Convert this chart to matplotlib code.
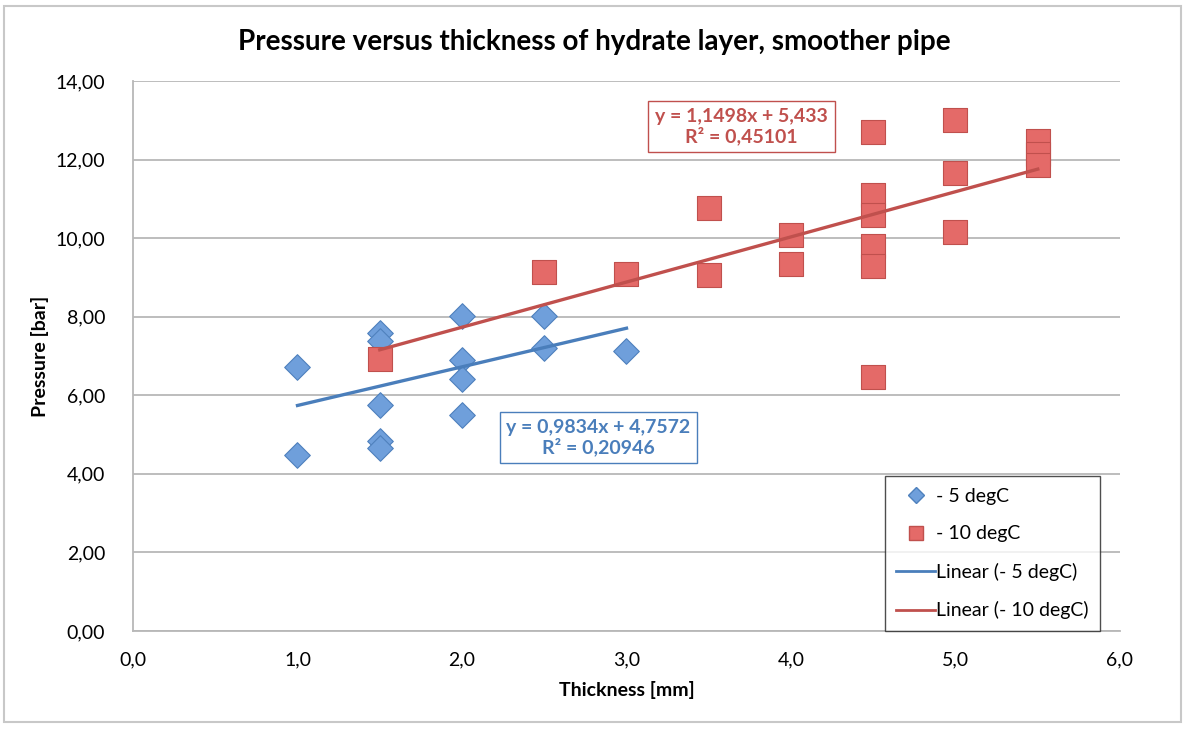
import numpy as np
import matplotlib.pyplot as plt
from matplotlib.lines import Line2D
from matplotlib.patches import Rectangle
from matplotlib.ticker import FuncFormatter

plt.rcParams['font.family'] = ['Lato', 'DejaVu Sans']

# -5 degC series (thickness mm, pressure bar)
x_5 = [1.0, 1.0, 1.5, 1.5, 1.5, 1.5, 1.5, 2.0, 2.0, 2.0, 2.0, 2.5, 2.5, 3.0]
p_5 = [6.72, 4.48, 7.59, 7.38, 5.75, 4.84, 4.67, 8.02, 6.89, 6.41, 5.50, 8.02, 7.21, 7.13]

# -10 degC series
x_10 = [1.5, 2.5, 3.0, 3.5, 3.5, 4.0, 4.0, 4.5, 4.5, 4.5, 4.5, 4.5, 4.5,
        5.0, 5.0, 5.0, 5.5, 5.5, 5.5]
p_10 = [6.93, 9.14, 9.10, 10.76, 9.06, 10.09, 9.35, 12.69, 11.09, 10.58, 9.80, 9.30, 6.47,
        13.02, 11.65, 10.16, 12.48, 12.15, 11.87]

# trendline coefficients as shown on the chart
fit_5 = (0.9834, 4.7572)
fit_10 = (1.1498, 5.433)
label_5 = "y = 0,9834x + 4,7572\nR² = 0,20946"
label_10 = "y = 1,1498x + 5,433\nR² = 0,45101"

blue_face = '#6f9fdb'
blue_edge = '#4f81bd'
blue_line = '#4a7ebb'
red_face = '#e46a68'
red_edge = '#c0504d'
red_line = '#c0504d'

fig = plt.figure(figsize=(11.89, 7.29), dpi=100)
fig.patches.append(Rectangle((0.003, 0.01), 0.99, 0.982, transform=fig.transFigure,
                             fill=False, edgecolor='#c8c8c8', linewidth=1.5))

ax = fig.add_axes([133 / 1189, 1 - 631 / 729, (1120 - 133) / 1189, (631 - 81) / 729])

ax.scatter(x_5, p_5, marker='D', s=170, color=blue_face, edgecolor=blue_edge,
           linewidth=0.8, zorder=3)
ax.scatter(x_10, p_10, marker='s', s=290, color=red_face, edgecolor=red_edge,
           linewidth=0.8, zorder=3)

xx5 = np.array([min(x_5), max(x_5)])
ax.plot(xx5, fit_5[0] * xx5 + fit_5[1], color=blue_line, linewidth=2.4, zorder=4)
xx10 = np.array([min(x_10), max(x_10)])
ax.plot(xx10, fit_10[0] * xx10 + fit_10[1], color=red_line, linewidth=2.4, zorder=4)

ax.set_xlim(0, 6)
ax.set_ylim(0, 14)
ax.set_xticks(np.arange(0, 7, 1))
ax.set_yticks(np.arange(0, 15, 2))
ax.xaxis.set_major_formatter(FuncFormatter(lambda v, p: f"{v:.1f}".replace('.', ',')))
ax.yaxis.set_major_formatter(FuncFormatter(lambda v, p: f"{v:.2f}".replace('.', ',')))
ax.tick_params(length=0, labelsize=14, pad=20)
ax.tick_params(axis='x', pad=15)
ax.grid(axis='y', color='#b8b8b8', linewidth=1.3)
ax.set_axisbelow(True)
for s in ['top', 'right']:
    ax.spines[s].set_visible(False)
for s in ['left', 'bottom']:
    ax.spines[s].set_color('#b8b8b8')
    ax.spines[s].set_linewidth(1.3)

ax.set_xlabel('Thickness [mm]', fontsize=14, fontweight='bold', labelpad=9)
ax.set_ylabel('Pressure [bar]', fontsize=14, fontweight='bold', labelpad=5)
fig.text(0.5, 1 - 42 / 729, 'Pressure versus thickness of hydrate layer, smoother pipe',
         ha='center', va='center', fontsize=20, fontweight='bold')

ax.text(2.83, 4.93, label_5, ha='center', va='center', fontsize=14, fontweight='bold',
        color=blue_line, linespacing=1.1,
        bbox=dict(boxstyle='square,pad=0.35', facecolor='white', edgecolor=blue_line, linewidth=1))
ax.text(3.7, 12.85, label_10, ha='center', va='center', fontsize=14, fontweight='bold',
        color=red_line, linespacing=1.1,
        bbox=dict(boxstyle='square,pad=0.35', facecolor='white', edgecolor=red_line, linewidth=1))

handles = [
    Line2D([], [], marker='D', linestyle='none', markersize=8, color=blue_face, markeredgecolor=blue_edge),
    Line2D([], [], marker='s', linestyle='none', markersize=10, color=red_face, markeredgecolor=red_edge),
    Line2D([], [], color=blue_line, linewidth=2),
    Line2D([], [], color=red_line, linewidth=2),
]
leg = ax.legend(handles, ['- 5 degC', '- 10 degC', 'Linear (- 5 degC)', 'Linear (- 10 degC)'],
                loc='lower right', bbox_to_anchor=(0.98, 0.0), fontsize=14, frameon=True,
                fancybox=False, edgecolor='#222222', handlelength=2.0, handletextpad=0.05,
                labelspacing=1.05, borderpad=0.6, borderaxespad=0.0)
leg.get_frame().set_linewidth(1.0)

fig.savefig('out.png', dpi=100)
